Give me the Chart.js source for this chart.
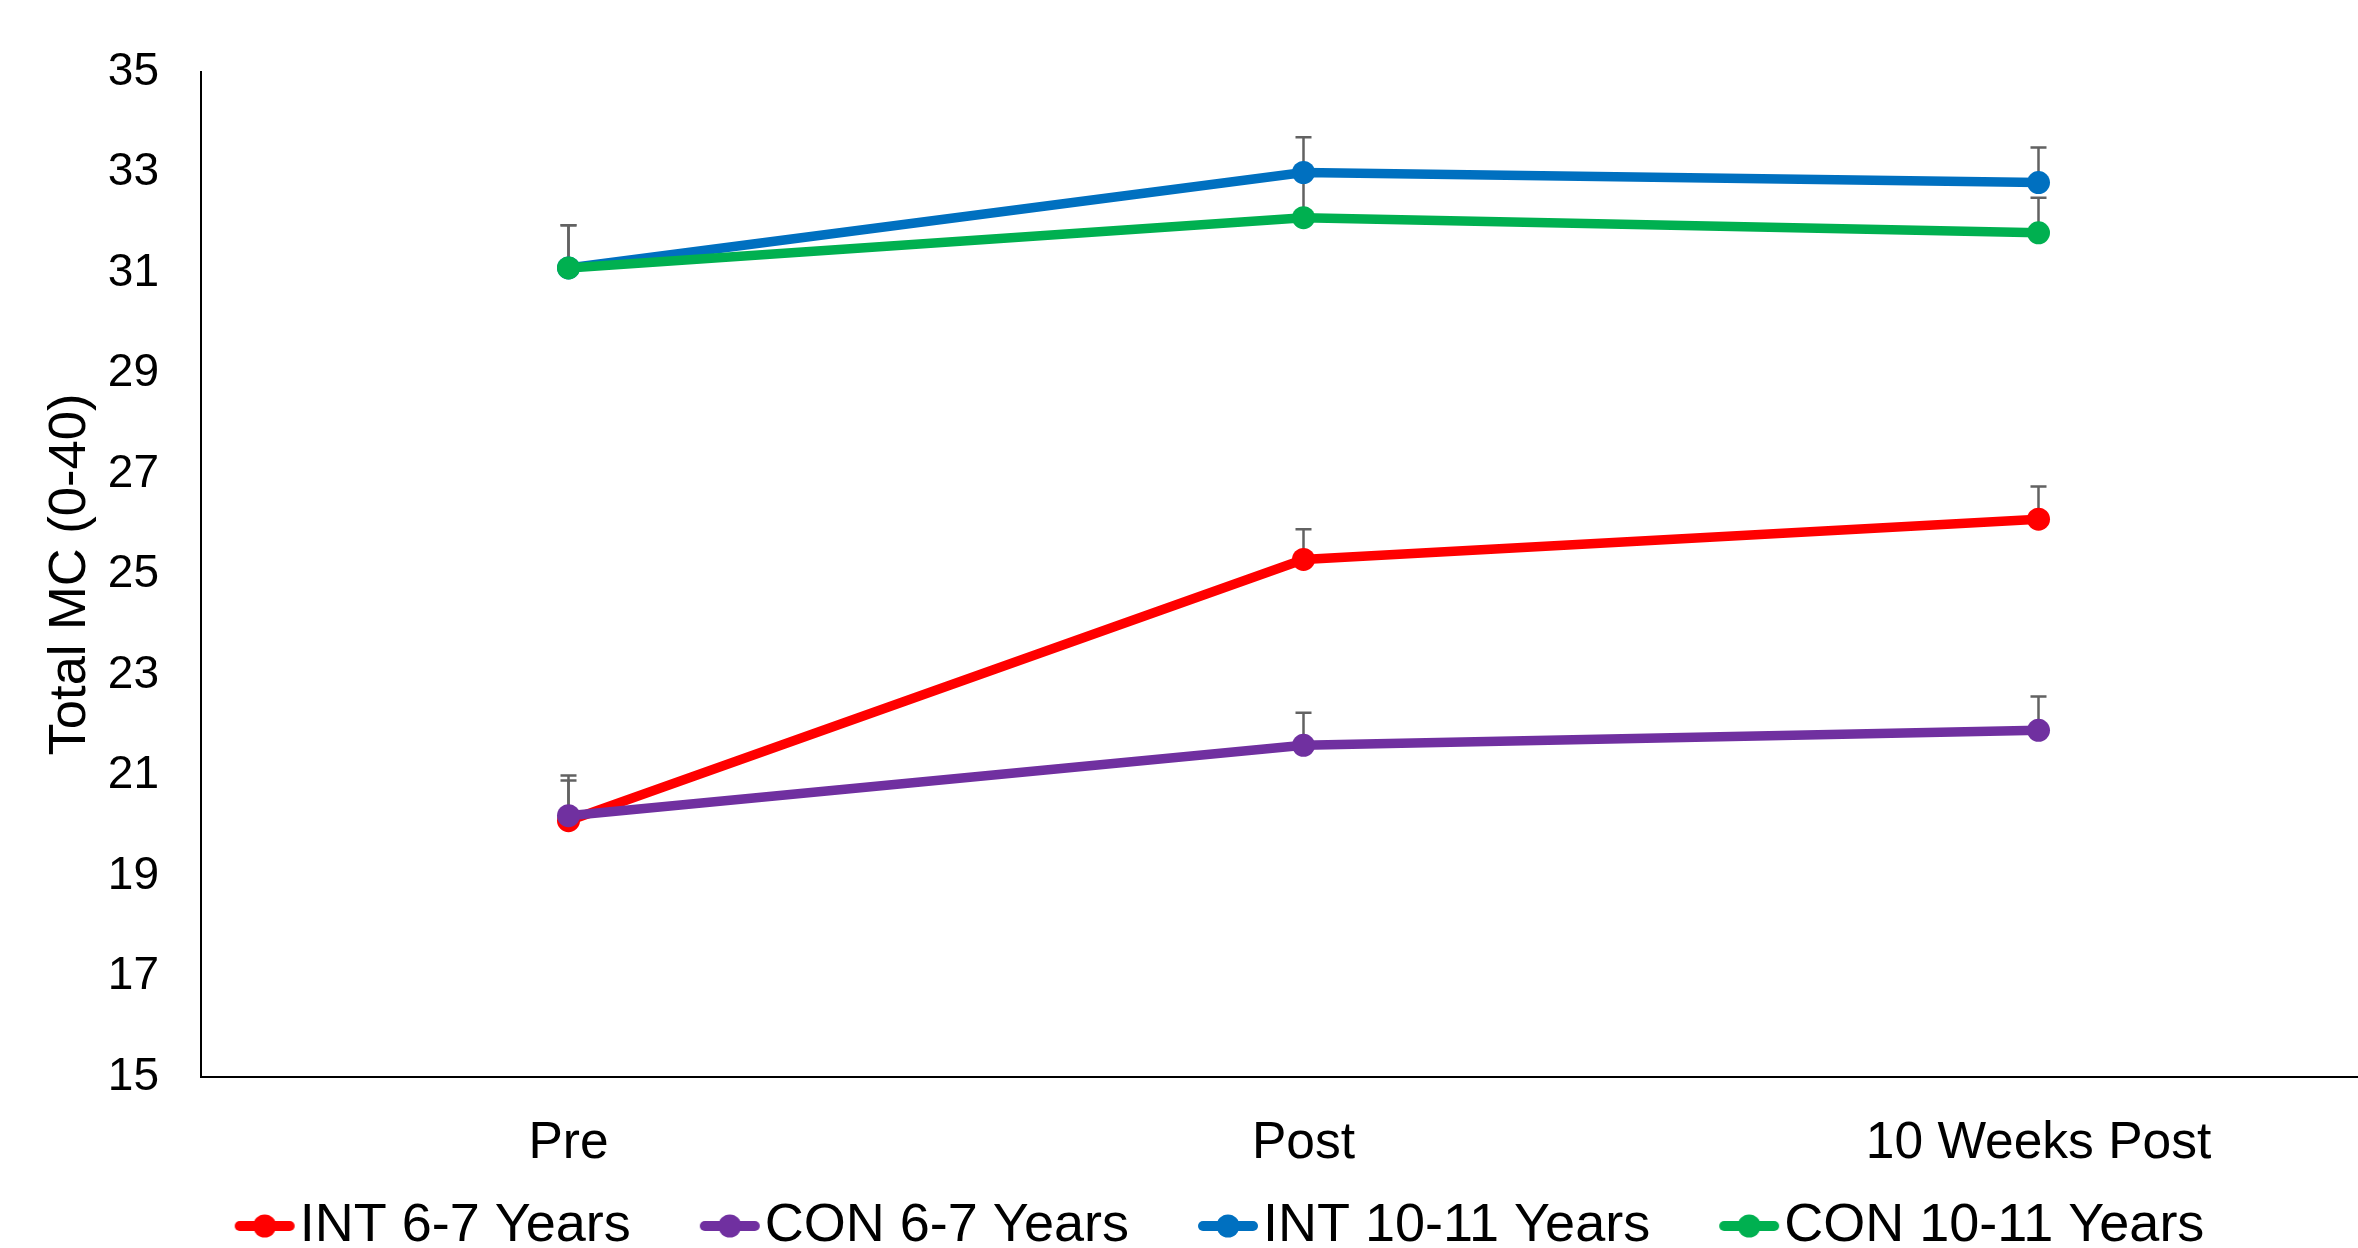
<!DOCTYPE html>
<html lang="en">
<head>
    <meta charset="UTF-8">
    <title>Total MC</title>
    <script src="https://cdn.jsdelivr.net/npm/chart.js"></script>
    <style>
        html, body {
            margin: 0;
            padding: 0;
            background: #fff;
            overflow: hidden;
        }
        #wrap {
            width: 2420px;
            height: 1263px;
        }
    </style>
</head>
<body>
    <div id="wrap"><canvas id="graph" width="2420" height="1263"></canvas></div>

    <script>
        // categories and series
        const categories = ['Pre', 'Post', '10 Weeks Post'];

        const int67 = [20.1, 25.3, 26.1];
        const int67Err = [0.9, 0.6, 0.65];
        const con67 = [20.2, 21.6, 21.9];
        const con67Err = [0.7, 0.65, 0.67];
        const int1011 = [31.1, 33.0, 32.8];
        const int1011Err = [0.85, 0.7, 0.7];
        const con1011 = [31.1, 32.1, 31.8];
        const con1011Err = [0.85, 0.9, 0.7];

        const yMin = 15;
        const yMax = 35;
        const yStep = 2;

        const FONT = '"Liberation Sans", Arial, sans-serif';

        // legend marker: short line with a dot, like the spreadsheet legend
        function legendMarker(color) {
            const c = document.createElement('canvas');
            c.width = 62;
            c.height = 26;
            const g = c.getContext('2d');
            g.strokeStyle = color;
            g.lineWidth = 10;
            g.lineCap = 'round';
            g.beginPath();
            g.moveTo(6, 13);
            g.lineTo(56, 13);
            g.stroke();
            g.fillStyle = color;
            g.beginPath();
            g.arc(31, 13, 11.5, 0, Math.PI * 2);
            g.fill();
            return c;
        }

        // upper error bars, drawn under the lines
        const errorBars = {
            id: 'errorBars',
            beforeDatasetsDraw(chart) {
                const ctx = chart.ctx;
                const xs = chart.scales.x;
                const ys = chart.scales.y;
                ctx.save();
                ctx.strokeStyle = '#626262';
                ctx.lineWidth = 2.5;
                chart.data.datasets.forEach(ds => {
                    ds.data.forEach((v, i) => {
                        const x = xs.getPixelForValue(i);
                        const y0 = ys.getPixelForValue(v);
                        const y1 = ys.getPixelForValue(v + ds.err[i]);
                        ctx.beginPath();
                        ctx.moveTo(x, y0);
                        ctx.lineTo(x, y1);
                        ctx.moveTo(x - 8, y1);
                        ctx.lineTo(x + 8, y1);
                        ctx.stroke();
                    });
                });
                ctx.restore();
            }
        };

        function series(label, data, err, color, order) {
            return {
                label: label,
                data: data,
                err: err,
                borderColor: color,
                backgroundColor: color,
                borderWidth: 9.5,
                pointRadius: 11.5,
                pointBorderWidth: 0,
                pointBackgroundColor: color,
                pointStyle: 'circle',
                tension: 0,
                fill: false,
                order: order,
                marker: legendMarker(color)
            };
        }

        window.onload = function() {
            const ctx = document.getElementById('graph').getContext('2d');
            new Chart(ctx, {
                type: 'line',
                data: {
                    labels: categories,
                    datasets: [
                        series('INT 6-7 Years', int67, int67Err, '#FF0000', 4),
                        series('CON 6-7 Years', con67, con67Err, '#7030A0', 3),
                        series('INT 10-11 Years', int1011, int1011Err, '#0070C0', 2),
                        series('CON 10-11 Years', con1011, con1011Err, '#00B050', 1)
                    ]
                },
                options: {
                    responsive: false,
                    animation: false,
                    layout: {
                        padding: { left: 55, right: 14, top: 72, bottom: 0 }
                    },
                    scales: {
                        x: {
                            offset: true,
                            grid: { display: false, drawTicks: false },
                            border: { display: true, color: '#000', width: 2 },
                            ticks: {
                                color: '#000',
                                padding: 36,
                                font: { family: FONT, size: 51.5 }
                            },
                            afterFit(scale) { scale.height = 112; }
                        },
                        y: {
                            min: yMin,
                            max: yMax,
                            grid: { display: false, drawTicks: false },
                            border: { display: true, color: '#000', width: 2 },
                            ticks: {
                                stepSize: yStep,
                                color: '#000',
                                padding: 42,
                                font: { family: FONT, size: 46 }
                            },
                            title: {
                                display: true,
                                text: 'Total MC (0-40)',
                                color: '#000',
                                padding: { top: -16, bottom: 0 },
                                font: { family: FONT, size: 52.5 }
                            },
                            afterFit(scale) { scale.width = 146; }
                        }
                    },
                    plugins: {
                        tooltip: { enabled: false },
                        legend: {
                            position: 'bottom',
                            labels: {
                                color: '#000',
                                font: { family: FONT, size: 54 },
                                usePointStyle: true,
                                pointStyleWidth: 16,
                                padding: 10,
                                sort: (a, b) => a.datasetIndex - b.datasetIndex,
                                generateLabels(chart) {
                                    const items = Chart.defaults.plugins.legend.labels.generateLabels(chart);
                                    const last = chart.data.datasets.length - 1;
                                    items.forEach(it => {
                                        it.pointStyle = chart.data.datasets[it.datasetIndex].marker;
                                        // gap before the next entry
                                        if (it.datasetIndex < last) it.text += '\u2003\u2002';
                                    });
                                    return items;
                                }
                            }
                        }
                    }
                },
                plugins: [errorBars]
            });
        };
    </script>
</body>
</html>
